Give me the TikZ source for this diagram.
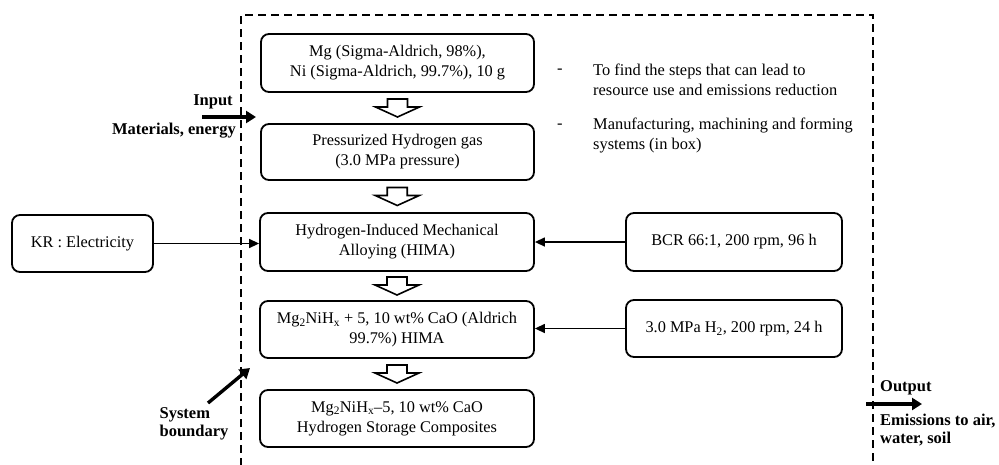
\documentclass[tikz,border=0pt]{standalone}
\usepackage{fontspec}
\setmainfont{Liberation Serif}
\usetikzlibrary{arrows.meta,calc}
\tikzset{
  procbox/.style={draw, line width=1.8pt, rounded corners=8pt, align=center,
    font=\fontsize{16.3}{20}\selectfont, inner sep=2pt},
  thinarrow/.style={line width=1.4pt, -{Triangle[length=10pt,width=9pt]}},
  thickarrow/.style={line width=3.4pt, -{Triangle[length=10pt,width=12pt]}},
  boundary/.style={line width=1.8pt, dash pattern=on 8pt off 5pt},
  lbl/.style={font=\fontsize{16.5}{18}\selectfont\bfseries, inner sep=0pt},
  note/.style={font=\fontsize{16.4}{20}\selectfont, inner sep=0pt, align=left, anchor=west},
  blockarrow/.pic={\draw[line width=1.6pt, line join=miter]
    (-10,0) -- (10,0) -- (10,8) -- (22,8) -- (0,18) -- (-22,8) -- (-10,8) -- cycle;}
}
\begin{document}
\begin{tikzpicture}[x=1pt,y=-1pt]
\useasboundingbox (0,0) rectangle (999,464);
% system boundary
\draw[boundary] (241,466) -- (241,15) -- (873,15) -- (873,466);
% main boxes
\node[procbox, minimum width=273pt, minimum height=58pt] (b1) at (397.5,63)
  {Mg (Sigma-Aldrich, 98\%),\\Ni (Sigma-Aldrich, 99.7\%), 10 g};
\node[procbox, minimum width=273pt, minimum height=56pt] (b2) at (397.5,152)
  {Pressurized Hydrogen gas\\(3.0 MPa pressure)};
\node[procbox, minimum width=274pt, minimum height=58pt] (b3) at (397,242)
  {Hydrogen-Induced Mechanical\\Alloying (HIMA)};
\node[procbox, minimum width=274pt, minimum height=57pt] (b4) at (397,329.5)
  {Mg\textsubscript{2}NiH\textsubscript{x} + 5, 10 wt\% CaO (Aldrich\\99.7\%) HIMA};
\node[procbox, minimum width=274pt, minimum height=57pt] (b5) at (397,418.5)
  {Mg\textsubscript{2}NiH\textsubscript{x}--5, 10 wt\% CaO\\Hydrogen Storage Composites};
% side boxes
\node[procbox, minimum width=141pt, minimum height=57pt] (kr) at (82.5,243.5)
  {KR : Electricity};
\node[procbox, minimum width=216pt, minimum height=58pt] (bcr) at (734,242)
  {BCR 66:1, 200 rpm, 96 h};
\node[procbox, minimum width=216pt, minimum height=57pt] (mpa) at (734,328.5)
  {3.0 MPa H\textsubscript{2}, 200 rpm, 24 h};
% connectors
\draw[thinarrow] (kr.east) -- (kr.east -| b3.west);
\draw[thinarrow] (bcr.west) -- (bcr.west -| b3.east);
\draw[thinarrow] (mpa.west) -- (mpa.west -| b4.east);
% block arrows
\path ($(b1.south)!0.5!(b2.north)$) ++(0,-9) pic {blockarrow};
\path ($(b2.south)!0.5!(b3.north)$) ++(0,-9) pic {blockarrow};
\path ($(b3.south)!0.5!(b4.north)$) ++(0,-9) pic {blockarrow};
\path ($(b4.south)!0.5!(b5.north)$) ++(0,-9) pic {blockarrow};
% notes
\node[note] (d1) at (557,71) {-};
\node[note] (n1) at (593,80) {To find the steps that can lead to\\resource use and emissions reduction};
\node[note] (d2) at (557,126) {-};
\node[note] (n2) at (593,135) {Manufacturing, machining and forming\\systems (in box)};
% input
\node[lbl] (inp) at (213,102) {Input};
\node[lbl, anchor=east] (mat) at (236,131) {Materials, energy};
\coordinate (inS) at (202,117);
\coordinate (inE) at (256,117);
\draw[thickarrow] (inS) -- (inE);
% system boundary label
\node[lbl, align=left] (sys) at (194,424) {System\\boundary};
\coordinate (sbS) at (208,403);
\coordinate (sbE) at (250,368);
\draw[thickarrow] (sbS) -- (sbE);
% output
\node[lbl, anchor=west] (out) at (880,388) {Output};
\coordinate (outS) at (866,404);
\coordinate (outE) at (922,404);
\draw[thickarrow] (outS) -- (outE);
\node[lbl, anchor=west, align=left] (emi) at (880,430) {Emissions to air,\\water, soil};
\end{tikzpicture}
\end{document}
